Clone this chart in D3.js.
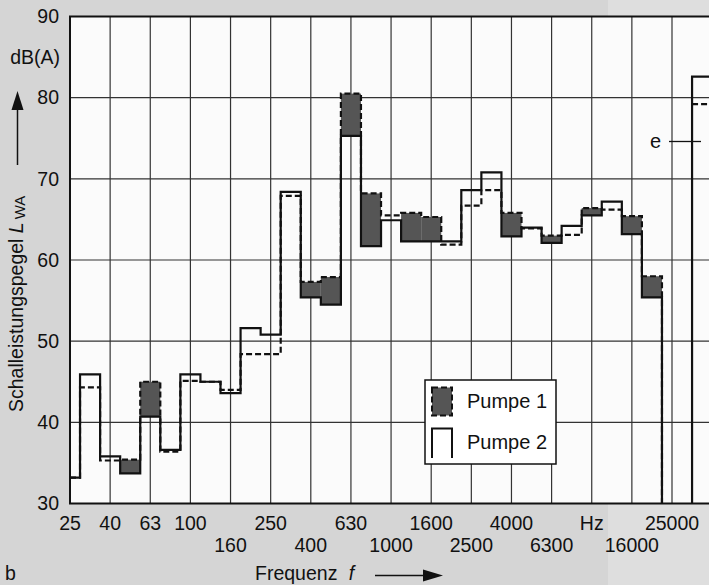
<!DOCTYPE html>
<html>
<head>
<meta charset="utf-8">
<script src="https://cdn.jsdelivr.net/npm/d3@7"></script>
<style>
  html, body { margin: 0; padding: 0; background: #d5d5d5; }
  #chartContainer { width: 709px; height: 585px; }
  svg text { font-family: "Liberation Sans", Arial, sans-serif; fill: #111; }
</style>
</head>
<body>
<div id="chartContainer"></div>
<script>
// third-octave bands, 25 Hz .. 25 kHz
const bands = ["25", "31.5", "40", "50", "63", "80", "100", "125", "160", "200", "250", "315",
  "400", "500", "630", "800", "1000", "1250", "1600", "2000", "2500", "3150", "4000", "5000",
  "6300", "8000", "10000", "12500", "16000", "20000", "25000"];

// sound power level dB(A) (null = below 30 dB)
const pumpe1 = [33.2, 44.3, 35.3, 35.4, 45.0, 36.4, 45.1, 45.0, 44.0, 48.4, 48.4, 67.9,
  57.3, 57.9, 80.5, 68.2, 65.5, 65.8, 65.3, 61.9, 66.7, 68.6, 65.8, 63.9,
  63.0, 63.1, 66.4, 66.2, 65.4, 58.0, null];
const pumpe2 = [33.2, 45.9, 35.8, 33.7, 40.7, 36.6, 45.9, 45.0, 43.6, 51.6, 50.8, 68.4,
  55.4, 54.5, 75.3, 61.7, 64.9, 62.3, 62.3, 62.3, 68.6, 70.8, 62.9, 64.0,
  62.1, 64.2, 65.5, 67.2, 63.2, 55.4, null];

// overall level "e"
const totalP1 = 79.2;
const totalP2 = 82.6;

const tickBands = ["25", "40", "63", "100", "160", "250", "400", "630", "1000", "1600",
  "2500", "4000", "6300", "10000", "16000", "25000"];
const tickLabels = ["25", "40", "63", "100", "160", "250", "400", "630", "1000", "1600",
  "2500", "4000", "6300", "Hz", "16000", "25000"];
const yTicks = [30, 40, 50, 60, 70, 80, 90];

function createChart() {
    const INK = "#111";
    const GRID = "#333";
    const FILL = "#555";
    const FS = "19.5px";

    const width = 709, height = 585;
    const left = 70, right = 709, top = 16.5, bottom = 503.5;

    const x = d3.scaleLinear().domain([0, 30]).range([70, 672]);
    const y = d3.scaleLinear().domain([30, 90]).range([bottom, top]);

    const svg = d3.select("#chartContainer").append("svg")
        .attr("width", width)
        .attr("height", height);

    // scan background
    svg.append("rect").attr("width", width).attr("height", height).attr("fill", "#d5d5d5");
    svg.append("rect").attr("x", 608).attr("width", width - 608).attr("height", height).attr("fill", "#dedede");
    svg.append("rect")
        .attr("x", left).attr("y", top)
        .attr("width", right - left).attr("height", bottom - top)
        .attr("fill", "#fbfbfb");

    svg.append("defs").append("clipPath").attr("id", "plot")
        .append("rect")
        .attr("x", left).attr("y", top)
        .attr("width", right - left).attr("height", bottom - top);

    // grid
    const grid = svg.append("g").attr("stroke", GRID).attr("stroke-width", 1.2);
    grid.selectAll("line.h")
        .data(yTicks.filter(v => v > 30 && v < 90))
        .enter().append("line")
        .attr("x1", left).attr("x2", right)
        .attr("y1", d => y(d)).attr("y2", d => y(d));
    grid.selectAll("line.v")
        .data(tickBands.slice(1))
        .enter().append("line")
        .attr("x1", d => x(bands.indexOf(d))).attr("x2", d => x(bands.indexOf(d)))
        .attr("y1", top).attr("y2", bottom);

    const plot = svg.append("g").attr("clip-path", "url(#plot)");

    // where Pumpe 1 is clearly louder, shade the difference
    const bw = x(1) - x(0);
    plot.selectAll("rect.diff")
        .data(bands.map((b, i) => ({ i, p1: pumpe1[i], p2: pumpe2[i] }))
            .filter(d => d.p1 != null && d.p1 - d.p2 >= 0.8))
        .enter().append("rect")
        .attr("x", d => x(d.i - 0.5))
        .attr("width", bw)
        .attr("y", d => y(d.p1))
        .attr("height", d => y(d.p2) - y(d.p1))
        .attr("fill", FILL);

    function stepPoints(vals) {
        const pts = [[-0.5, 30]];
        vals.forEach((v, i) => {
            if (v == null) return;
            pts.push([i - 0.5, v], [i + 0.5, v]);
        });
        pts.push([pts[pts.length - 1][0], 30]);
        return pts;
    }
    const line = d3.line().x(d => x(d[0])).y(d => y(d[1]));

    plot.append("path")
        .attr("d", line(stepPoints(pumpe2)))
        .attr("fill", "none").attr("stroke", INK).attr("stroke-width", 2.2);
    plot.append("path")
        .attr("d", line(stepPoints(pumpe1)))
        .attr("fill", "none").attr("stroke", INK).attr("stroke-width", 2.2)
        .attr("stroke-dasharray", "6,3");

    // overall level bar "e"
    plot.append("path")
        .attr("d", line([[31, 30], [31, totalP2], [33, totalP2]]))
        .attr("fill", "none").attr("stroke", INK).attr("stroke-width", 2.2);
    plot.append("path")
        .attr("d", line([[31, totalP1], [33, totalP1]]))
        .attr("fill", "none").attr("stroke", INK).attr("stroke-width", 2.2)
        .attr("stroke-dasharray", "6,3");
    svg.append("text").attr("x", 650).attr("y", 148).style("font-size", "20px").text("e");
    svg.append("line")
        .attr("x1", 669).attr("x2", 701)
        .attr("y1", y(74.6)).attr("y2", y(74.6))
        .attr("stroke", INK).attr("stroke-width", 1.3);

    // frame
    svg.append("path")
        .attr("d", `M${right},${top}H${left}V${bottom}H${right}`)
        .attr("fill", "none").attr("stroke", INK).attr("stroke-width", 2);

    // y axis labels
    const yAxis = svg.append("g")
        .attr("transform", `translate(${left},0)`)
        .call(d3.axisLeft(y).tickValues(yTicks).tickSize(0).tickPadding(11));
    yAxis.select(".domain").remove();
    yAxis.selectAll("text")
        .attr("font-family", null)
        .style("font-size", FS)
        .style("fill", INK);

    svg.append("text").attr("x", 60).attr("y", 64)
        .attr("text-anchor", "end").style("font-size", FS).text("dB(A)");

    // y title with arrow
    const yt = svg.append("text")
        .attr("transform", "translate(23,412) rotate(-90)")
        .style("font-size", FS);
    yt.append("tspan").text("Schalleistungspegel ");
    yt.append("tspan").style("font-style", "italic").text("L");
    yt.append("tspan").attr("dx", 3).attr("dy", 2).style("font-size", "15px").text("WA");
    svg.append("line")
        .attr("x1", 17.5).attr("x2", 17.5).attr("y1", 165).attr("y2", 106)
        .attr("stroke", INK).attr("stroke-width", 1.5);
    svg.append("path").attr("d", "M11.5,110L23.5,110L17.5,91Z").attr("fill", INK);

    // x tick labels in two rows
    svg.append("g").selectAll("text")
        .data(tickLabels)
        .enter().append("text")
        .attr("x", (d, k) => x(bands.indexOf(tickBands[k])))
        .attr("y", (d, k) => (k >= 4 && k % 2 === 0) ? 552 : 530)
        .attr("text-anchor", "middle")
        .style("font-size", FS)
        .text(d => d);

    // x title with arrow
    const xt = svg.append("text").attr("x", 255).attr("y", 580).style("font-size", FS);
    xt.append("tspan").text("Frequenz ");
    xt.append("tspan").attr("dx", 6).style("font-style", "italic").text("f");
    svg.append("line")
        .attr("x1", 375).attr("x2", 426).attr("y1", 575.5).attr("y2", 575.5)
        .attr("stroke", INK).attr("stroke-width", 1.5);
    svg.append("path").attr("d", "M423,569.5L423,581.5L443,575.5Z").attr("fill", INK);

    svg.append("text").attr("x", 5).attr("y", 580).style("font-size", FS).text("b");

    // legend
    const lg = svg.append("g");
    lg.append("rect")
        .attr("x", 425).attr("y", 380).attr("width", 131).attr("height", 84)
        .attr("fill", "#fff").attr("stroke", INK).attr("stroke-width", 1.5);
    lg.append("rect")
        .attr("x", 432).attr("y", 387.5).attr("width", 20).attr("height", 28)
        .attr("fill", FILL).attr("stroke", INK).attr("stroke-width", 2)
        .attr("stroke-dasharray", "6,3");
    lg.append("path")
        .attr("d", "M432,458V428.5H452V458")
        .attr("fill", "none").attr("stroke", INK).attr("stroke-width", 2);
    lg.append("text").attr("x", 467).attr("y", 408).style("font-size", "20px").text("Pumpe 1");
    lg.append("text").attr("x", 467).attr("y", 449).style("font-size", "20px").text("Pumpe 2");
}
createChart();
</script>
</body>
</html>
